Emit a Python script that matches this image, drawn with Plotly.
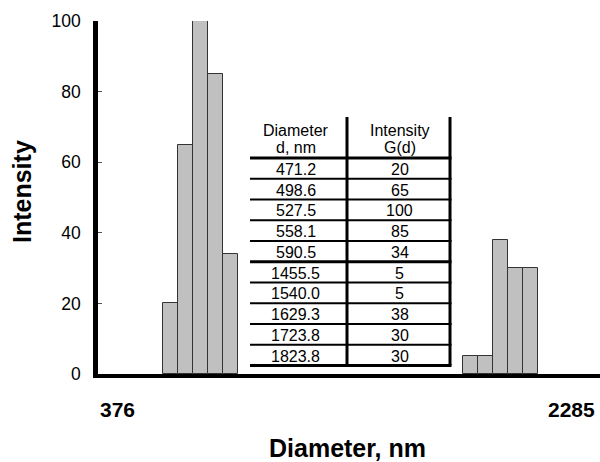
import numpy as np
import plotly.graph_objects as go

# ---- data ----
diameters = [471.2, 498.6, 527.5, 558.1, 590.5, 1455.5, 1540.0, 1629.3, 1723.8, 1823.8]
intensity = [20, 65, 100, 85, 34, 5, 5, 38, 30, 30]
x_end_labels = ["376", "2285"]
y_ticks = [0, 20, 40, 60, 80, 100]
table_header_d = ["Diameter", "d, nm"]
table_header_g = ["Intensity", "G(d)"]

FONT = "Arial, Liberation Sans, Helvetica, sans-serif"
W, H = 600, 462
ML, MR, MT, MB = 98, 0, 21, 88

logd = np.log10(np.array(diameters))
bar_w = float(np.log10(diameters[1] / diameters[0]))

fig = go.Figure()
fig.add_trace(go.Bar(
    x=logd, y=intensity, width=bar_w,
    marker=dict(color="#c0c0c0", line=dict(color="#333333", width=1)),
    showlegend=False, hoverinfo="skip",
))

# pixel -> paper helpers (layout positioning only)
PW, PH = W - ML - MR, H - MT - MB
def px(xp):
    return (xp - ML) / PW
def py(yp):
    return (H - MB - yp) / PH

shapes = []
annotations = []

# table geometry
t_left, t_mid, t_right = 250, 347, 450
line0, row_h = 158, 20.75
n = len(diameters)
lines_y = [line0 + row_h * i for i in range(n + 1)]
steps = np.diff(logd)
breaks = [i + 1 for i, s in enumerate(steps) if s > 1.5 * bar_w]
thick_idx = {0, n, *breaks}
for i, yl in enumerate(lines_y):
    shapes.append(dict(type="line", xref="paper", yref="paper",
                       x0=px(t_left), x1=px(t_right + 1.5), y0=py(yl), y1=py(yl),
                       line=dict(color="black", width=3.2 if i in thick_idx else 2)))
for xv in (t_mid, t_right):
    shapes.append(dict(type="line", xref="paper", yref="paper",
                       x0=px(xv), x1=px(xv), y0=py(117), y1=py(lines_y[-1]),
                       line=dict(color="black", width=3)))

TFS = 16
col_d, col_g = 295.5, 399.5
for j, (hd, hg) in enumerate(zip(table_header_d, table_header_g)):
    yy = 130 + 17 * j
    for xc, txt in ((col_d, hd), (col_g, hg)):
        annotations.append(dict(xref="paper", yref="paper", x=px(xc), y=py(yy),
                                text=txt, showarrow=False, xanchor="center", yanchor="middle",
                                font=dict(family=FONT, size=TFS, color="black")))
for i, (d, g) in enumerate(zip(diameters, intensity)):
    yy = (lines_y[i] + lines_y[i + 1]) / 2 + 1
    for xc, txt in ((col_d, f"{d:.1f}"), (col_g, f"{g}")):
        annotations.append(dict(xref="paper", yref="paper", x=px(xc), y=py(yy),
                                text=txt, showarrow=False, xanchor="center", yanchor="middle",
                                font=dict(family=FONT, size=TFS, color="black")))

# x end labels
annotations.append(dict(xref="paper", yref="paper", x=0, y=py(409), text=f"<b>{x_end_labels[0]}</b>",
                        showarrow=False, xanchor="left", yanchor="middle",
                        font=dict(family=FONT, size=21, color="black")))
annotations.append(dict(xref="paper", yref="paper", x=1, y=py(409), xshift=-3,
                        text=f"<b>{x_end_labels[1]}</b>",
                        showarrow=False, xanchor="right", yanchor="middle",
                        font=dict(family=FONT, size=21, color="black")))
# axis titles
annotations.append(dict(xref="paper", yref="paper", x=px(347), y=py(448),
                        text="<b>Diameter, nm</b>", showarrow=False,
                        xanchor="center", yanchor="middle",
                        font=dict(family=FONT, size=25, color="black")))
annotations.append(dict(xref="paper", yref="paper", x=px(22), y=py(192),
                        text="<b>Intensity</b>", showarrow=False, textangle=-90,
                        xanchor="center", yanchor="middle",
                        font=dict(family=FONT, size=25, color="black")))

fig.update_layout(
    width=W, height=H,
    margin=dict(l=ML, r=MR, t=MT, b=MB),
    paper_bgcolor="white", plot_bgcolor="white",
    bargap=0,
    shapes=shapes, annotations=annotations,
    font=dict(family=FONT, color="black"),
    xaxis=dict(range=[2.55484, 3.37443], showgrid=False, zeroline=False,
               showline=True, linecolor="black", linewidth=4,
               showticklabels=False, ticks="", fixedrange=True),
    yaxis=dict(range=[0, 100], tickvals=y_ticks, showgrid=False, zeroline=False,
               showline=True, linecolor="black", linewidth=4.5,
               ticks="inside", ticklen=4, tickwidth=1, tickcolor="#555555",
               tickfont=dict(family=FONT, size=17.5, color="black"),
               ticklabelstandoff=9, fixedrange=True),
)
fig.write_html("out.html", config={"displayModeBar": False},
               post_script="document.body.style.margin='0';document.body.style.overflow='hidden';")
